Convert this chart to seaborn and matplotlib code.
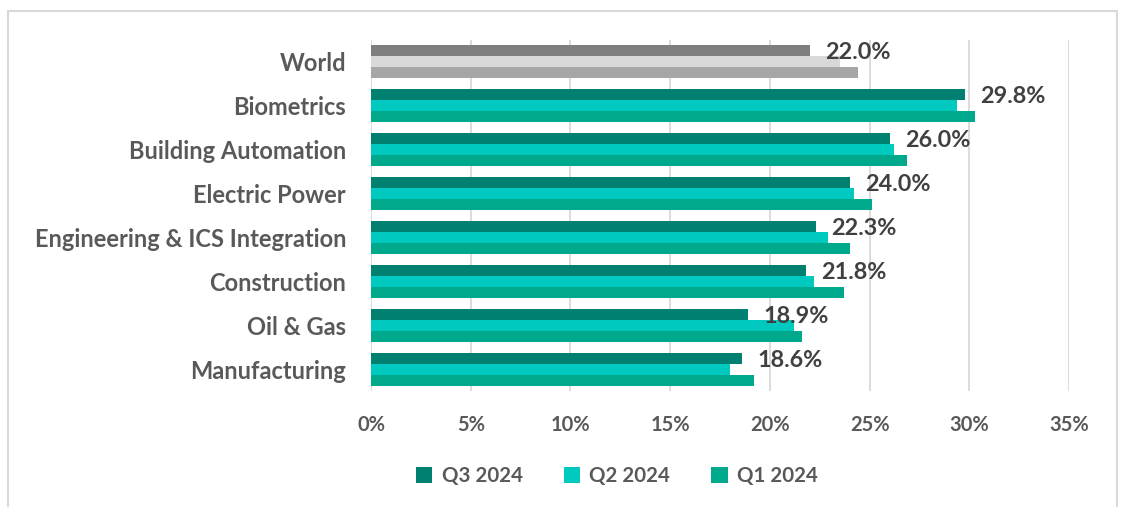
import matplotlib
matplotlib.use("Agg")
import matplotlib.pyplot as plt
import seaborn as sns
import pandas as pd
from matplotlib.patches import Patch, Rectangle

categories = ["World", "Biometrics", "Building Automation", "Electric Power",
              "Engineering & ICS Integration", "Construction", "Oil & Gas", "Manufacturing"]
quarters = ["Q3 2024", "Q2 2024", "Q1 2024"]
q3_values = [22.0, 29.8, 26.0, 24.0, 22.3, 21.8, 18.9, 18.6]
q2_values = [23.5, 29.4, 26.2, 24.2, 22.9, 22.2, 21.2, 18.0]
q1_values = [24.4, 30.3, 26.9, 25.1, 24.0, 23.7, 21.6, 19.2]
x_ticks = [0, 5, 10, 15, 20, 25, 30, 35]

teal_colors = ["#008070", "#00C9C0", "#00A88C"]
world_colors = ["#7F7F7F", "#D9D9D9", "#A6A6A6"]
text_gray = "#595959"
label_gray = "#404040"

rows = []
for q, vals in zip(quarters, [q3_values, q2_values, q1_values]):
    for c, v in zip(categories, vals):
        rows.append({"category": c, "quarter": q, "value": v})
df = pd.DataFrame(rows)

sns.set_theme(style="white")
plt.rcParams["font.family"] = ["Lato", "DejaVu Sans"]

W, H = 1122, 507
fig = plt.figure(figsize=(W / 100, H / 100), dpi=100)
left, right, top, bottom = 371, 1069, 39.5, 391
ax = fig.add_axes([left / W, 1 - bottom / H, (right - left) / W, (bottom - top) / H])

sns.barplot(data=df, y="category", x="value", hue="quarter", order=categories,
            hue_order=quarters, palette=teal_colors, orient="h", width=0.75,
            dodge=True, gap=0, errorbar=None, saturation=1, linewidth=0,
            legend=False, ax=ax, zorder=3)

# World bars in grey
for container, wc in zip(ax.containers, world_colors):
    container.patches[0].set_facecolor(wc)

ax.set_xlim(0, 35)
ax.set_ylim(len(categories) - 0.5, -0.5)
ax.set_xticks(x_ticks)
ax.set_xticklabels([f"{t}%" for t in x_ticks])
ax.set_xlabel("")
ax.set_ylabel("")
for s in ax.spines.values():
    s.set_visible(False)
ax.grid(axis="x", color="#D9D9D9", linewidth=1.3, zorder=0)
ax.grid(axis="y", visible=False)
ax.set_axisbelow(True)
ax.tick_params(axis="x", length=0, pad=17, labelsize=14.5, labelcolor=text_gray)
ax.tick_params(axis="y", length=0, pad=18, labelsize=17, labelcolor=text_gray)
for lab in ax.get_xticklabels() + ax.get_yticklabels():
    lab.set_fontweight("bold")

# Data labels at end of Q3 bars
for i, v in enumerate(q3_values):
    ax.annotate(f"{v:.1f}%", xy=(v, i - 0.25), xytext=(11, -1.5),
                textcoords="offset points", ha="left", va="center",
                fontsize=16.8, fontweight="bold", color=label_gray, zorder=5)

handles = [Patch(facecolor=c, edgecolor="none") for c in teal_colors]
leg = fig.legend(handles, quarters, loc="center", ncol=3,
                 bbox_to_anchor=(617 / W, 1 - 476 / H), frameon=False,
                 handlelength=0.8, handleheight=0.8, handletextpad=0.45,
                 columnspacing=2.0, prop={"weight": "bold", "size": 14.8})
for t in leg.get_texts():
    t.set_color(text_gray)

fig.patches.append(Rectangle((8 / W, -0.1), (1117 - 8) / W, 1 - 11 / H + 0.1,
                             transform=fig.transFigure, fill=False,
                             edgecolor="#D9D9D9", linewidth=1.5))

fig.savefig("out.png", dpi=100)
